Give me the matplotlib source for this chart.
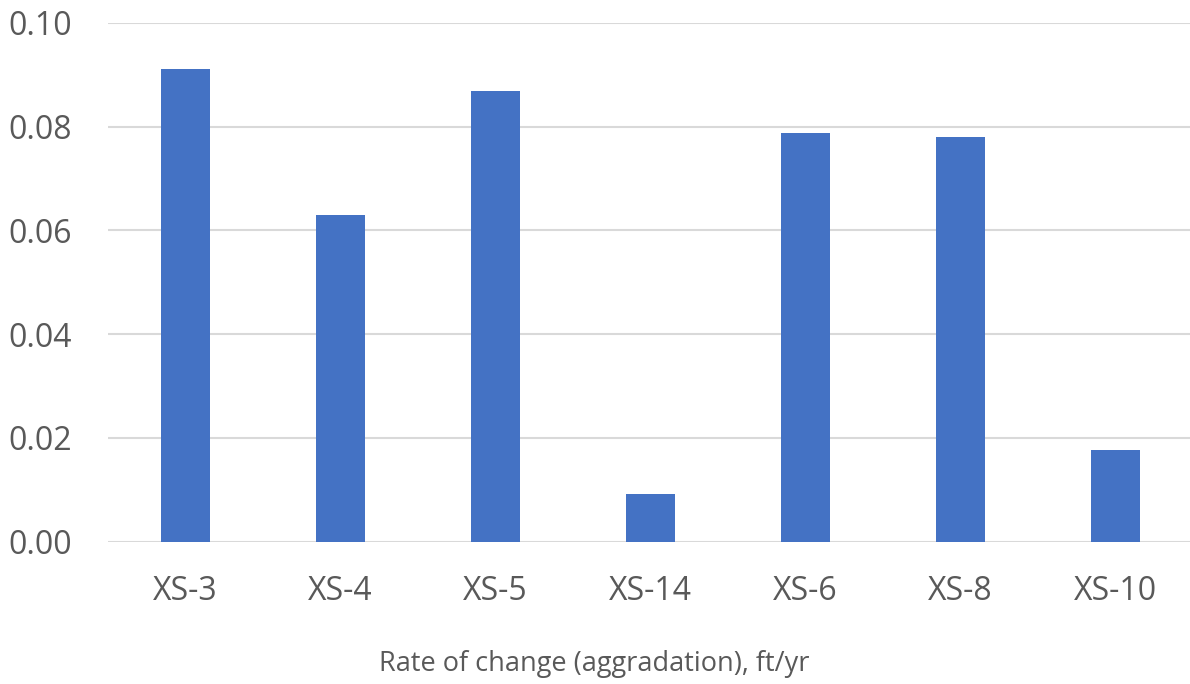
import matplotlib
matplotlib.use("Agg")
import matplotlib.pyplot as plt

categories = ["XS-3", "XS-4", "XS-5", "XS-14", "XS-6", "XS-8", "XS-10"]
values = [0.0910, 0.0629, 0.0869, 0.0092, 0.0787, 0.0779, 0.0177]
yticks = [0.00, 0.02, 0.04, 0.06, 0.08, 0.10]
xlabel = "Rate of change (aggradation), ft/yr"

plt.rcParams['font.family'] = ['Open Sans', 'DejaVu Sans']

fig = plt.figure(figsize=(11.9, 6.84), dpi=100)
ax = fig.add_axes([108/1190, 142.3/684, 1085/1190, 519/684])
x = range(len(categories))
ax.bar(x, values, width=0.315, color="#4472C4", zorder=3)
ax.set_xlim(-0.5, len(categories) - 0.5)
ax.set_ylim(0, 0.10)
ax.set_yticks(yticks)
ax.set_yticklabels([f"{v:.2f}" for v in yticks])
ax.set_xticks(list(x))
ax.set_xticklabels(categories)
ax.grid(axis="y", color="#d9d9d9", linewidth=1.5, zorder=0)
ax.set_axisbelow(True)
for s in ax.spines.values():
    s.set_visible(False)
ax.tick_params(axis="both", length=0, labelcolor="#595959", labelsize=23)
ax.tick_params(axis="y", pad=26)
ax.tick_params(axis="x", pad=24)
fig.text(594/1190, 1 - 664/684, xlabel, ha="center", va="center",
         fontsize=19.5, color="#595959")
fig.savefig("out.png", dpi=100)
